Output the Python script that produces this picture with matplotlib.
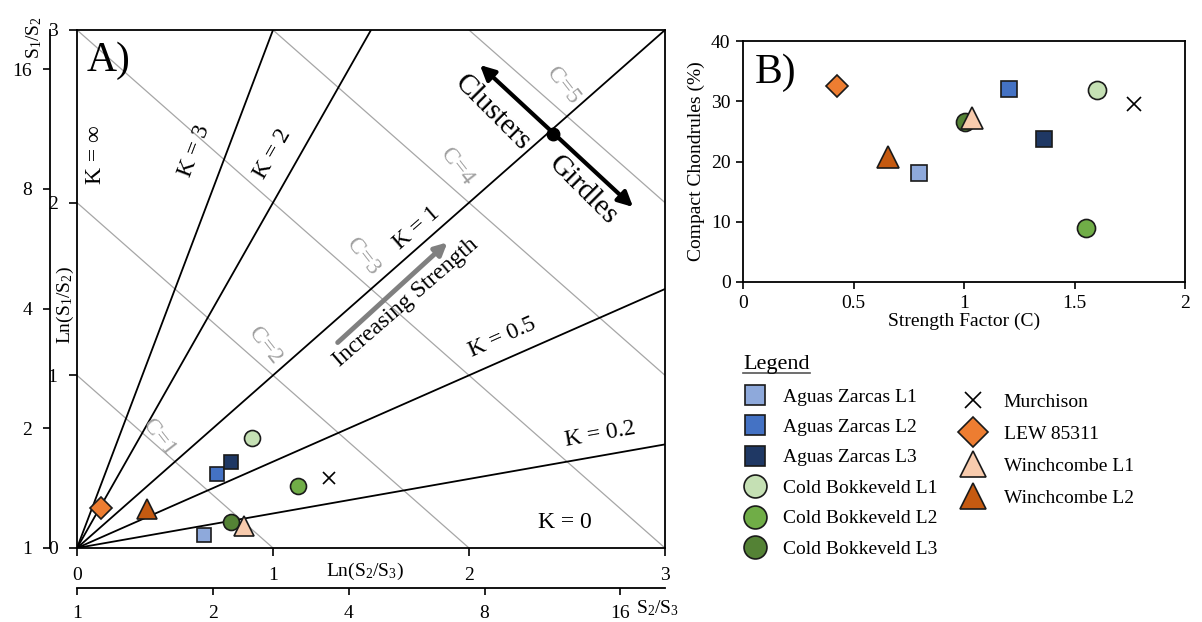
import numpy as np
import matplotlib
matplotlib.use("Agg")
import matplotlib.pyplot as plt
from matplotlib.lines import Line2D
from matplotlib.ticker import FuncFormatter

plt.rcParams['font.family'] = ['Liberation Serif', 'DejaVu Serif']
plt.rcParams['mathtext.fontset'] = 'custom'
plt.rcParams['mathtext.rm'] = 'Liberation Serif'
plt.rcParams['mathtext.it'] = 'Liberation Serif:italic'
plt.rcParams['mathtext.bf'] = 'Liberation Serif:bold'

# ---------------- data ----------------
samples = ["Aguas Zarcas L1", "Aguas Zarcas L2", "Aguas Zarcas L3",
           "Cold Bokkeveld L1", "Cold Bokkeveld L2", "Cold Bokkeveld L3",
           "Murchison", "LEW 85311", "Winchcombe L1", "Winchcombe L2"]
markers = ["s", "s", "s", "o", "o", "o", "x", "D", "^", "^"]
colors = ["#8EA9DB", "#4472C4", "#1F3864",
          "#C5E0B4", "#70AD47", "#548235",
          "#000000", "#ED7D31", "#F8CBAD", "#C55A11"]

# Woodcock diagram coordinates
ln_s2_s3 = [0.65, 0.715, 0.785, 0.895, 1.126, 0.785, 1.285, 0.121, 0.85, 0.356]
ln_s1_s2 = [0.074, 0.427, 0.499, 0.639, 0.359, 0.150, 0.404, 0.229, 0.126, 0.223]

# Strength factor vs compact chondrule fraction
strength_c = [0.797, 1.204, 1.362, 1.600, 1.552, 1.005, 1.769, 0.427, 1.037, 0.658]
compact_pct = [18.1, 32.0, 23.8, 31.9, 8.9, 26.5, 29.6, 32.6, 27.3, 20.8]

k_values = [0.2, 0.5, 1, 2, 3]
c_values = [1, 2, 3, 4, 5]
ratio_ticks = [1, 2, 4, 8, 16]

# ---------------- figure ----------------
W, H = 1202, 622
fig = plt.figure(figsize=(W / 100, H / 100), dpi=100)


def px_axes(left, top, right, bottom):
    return fig.add_axes([left / W, 1 - bottom / H, (right - left) / W, (bottom - top) / H])


sizes_a = {"s": 10.5, "o": 11.5, "x": 9, "D": 11, "^": 14}
sizes_b = {"s": 11, "o": 13, "x": 10, "D": 11.5, "^": 16}
sizes_leg = {"s": 15, "o": 16.5, "x": 11, "D": 15, "^": 19}


def style(m, c, sizes):
    if m == "x":
        return dict(marker=m, markersize=sizes[m], color="black",
                    markeredgewidth=1.2, linestyle="none")
    return dict(marker=m, markersize=sizes[m], markerfacecolor=c,
                markeredgecolor="#1a1a1a", markeredgewidth=1.2, linestyle="none")


# ---------------- panel A ----------------
axA = px_axes(77, 30, 665, 548)
axA.set_xlim(0, 3)
axA.set_ylim(0, 3)
for s in axA.spines.values():
    s.set_linewidth(1.3)

for c in c_values:
    axA.axline((0, c), slope=-1, color="#A6A6A6", lw=0.9, zorder=1)
for k in k_values:
    axA.axline((0, 0), slope=k, color="black", lw=1.3, zorder=2)

for x, y, m, c in zip(ln_s2_s3, ln_s1_s2, markers, colors):
    axA.plot(x, y, zorder=5, clip_on=False, **style(m, c, sizes_a))

axA.set_xticks([0, 1, 2, 3])
axA.set_yticks([0, 1, 2, 3])
axA.tick_params(direction="out", length=6, width=1.2, labelsize=14, pad=8)

sec_y = axA.secondary_yaxis(-27 / 588, functions=(np.exp, np.log))
sec_y.set_yticks(ratio_ticks)
sec_y.tick_params(direction="out", length=5, width=1.2, labelsize=14, pad=8)
sec_y.spines["left"].set_linewidth(1.3)

sec_x = axA.secondary_xaxis(-40 / 518, functions=(np.exp, np.log))
sec_x.set_xticks(ratio_ticks)
sec_x.tick_params(direction="out", length=5, width=1.2, labelsize=14, pad=7)
sec_x.spines["bottom"].set_linewidth(1.3)

axA.text(0.49, -0.046, r"Ln(S$_2$/S$_3$)", transform=axA.transAxes,
         ha="center", va="center", fontsize=14)
axA.text(0.988, -0.116, r"S$_2$/S$_3$", transform=axA.transAxes,
         ha="center", va="center", fontsize=14)
axA.text(-0.02, 0.469, r"Ln(S$_1$/S$_2$)", transform=axA.transAxes,
         ha="center", va="center", fontsize=14, rotation=90)
axA.text(-0.073, 0.985, r"S$_1$/S$_2$", transform=axA.transAxes,
         ha="center", va="center", fontsize=14, rotation=90)

axA.text(0.017, 0.94, "A)", transform=axA.transAxes, fontsize=30,
         ha="left", va="center")

# K labels
k_label_pos = {0.2: (2.67, 0.66, 10), 0.5: (2.17, 1.22, 24), 1: (1.735, 1.85, 41),
               2: (1.0, 2.28, 60), 3: (0.60, 2.30, 69)}
for k in k_values:
    x, y, r = k_label_pos[k]
    axA.text(x, y, f"K = {k:g}", fontsize=17, rotation=r,
             ha="center", va="center", rotation_mode="anchor")
axA.text(0.092, 2.28, "K = \u221e", fontsize=17, rotation=90, ha="center", va="center")
axA.text(2.49, 0.15, "K = 0", fontsize=17, ha="center", va="center")

# C labels
c_label_pos = {1: (0.42, 0.64), 2: (0.96, 1.17), 3: (1.46, 1.685),
               4: (1.94, 2.21), 5: (2.48, 2.68)}
for c in c_values:
    x, y = c_label_pos[c]
    axA.text(x, y, f"C={c}", fontsize=17, color="#A0A0A0", rotation=-52,
             ha="center", va="center", rotation_mode="anchor")

# Increasing strength arrow
axA.annotate("", xy=(1.89, 1.77), xytext=(1.33, 1.19),
             arrowprops=dict(arrowstyle="-|>", color="#808080", lw=3.5,
                             mutation_scale=18, shrinkA=0, shrinkB=0))
axA.text(1.68, 1.42, "Increasing Strength", fontsize=17, rotation=41,
         ha="center", va="center", rotation_mode="anchor")

# Clusters / Girdles arrow
axA.annotate("", xy=(2.056, 2.797), xytext=(2.837, 1.975),
             arrowprops=dict(arrowstyle="<|-|>", color="black", lw=3,
                             mutation_scale=22, shrinkA=0, shrinkB=0))
axA.plot(2.43, 2.40, "o", color="black", markersize=9, zorder=6)
axA.text(2.12, 2.52, "Clusters", fontsize=21, rotation=-45,
         ha="center", va="center", rotation_mode="anchor")
axA.text(2.58, 2.07, "Girdles", fontsize=21, rotation=-45,
         ha="center", va="center", rotation_mode="anchor")

# ---------------- panel B ----------------
axB = px_axes(743, 41, 1185, 282)
axB.set_xlim(0, 2)
axB.set_ylim(0, 40)
for s in axB.spines.values():
    s.set_linewidth(1.3)
for x, y, m, c in zip(strength_c, compact_pct, markers, colors):
    axB.plot(x, y, zorder=5, **style(m, c, sizes_b))
axB.set_xticks([0, 0.5, 1, 1.5, 2])
axB.set_yticks([0, 10, 20, 30, 40])
axB.xaxis.set_major_formatter(FuncFormatter(lambda v, p: f"{v:g}"))
axB.tick_params(direction="out", length=5, width=1.2, labelsize=14, pad=4)
axB.set_xlabel("Strength Factor (C)", fontsize=14, labelpad=1)
axB.set_ylabel("Compact Chondrules (%)", fontsize=14, labelpad=4)
axB.text(0.027, 0.87, "B)", transform=axB.transAxes, fontsize=30,
         ha="left", va="center")

# ---------------- legend ----------------
handles = [Line2D([], [], **style(m, c, sizes_leg)) for m, c in zip(markers, colors)]
order1 = [0, 1, 2, 3, 4, 5]
order2 = [6, 7, 8, 9]
leg_kw = dict(frameon=False, fontsize=14, handlelength=1.5, borderpad=0,
              borderaxespad=0, loc="upper left")
leg1 = fig.legend([handles[i] for i in order1], [samples[i] for i in order1],
                  bbox_to_anchor=(740 / W, 1 - 388 / H), handletextpad=0.7,
                  labelspacing=0.66, **leg_kw)
leg2 = fig.legend([handles[i] for i in order2], [samples[i] for i in order2],
                  bbox_to_anchor=(958 / W, 1 - 393 / H), handletextpad=0.85,
                  labelspacing=0.74, **leg_kw)

title = fig.text(743 / W, 1 - 364 / H, "Legend", fontsize=16, ha="left", va="center")
fig.canvas.draw()
bb = title.get_window_extent()
fig.add_artist(Line2D([bb.x0 / W, bb.x1 / W], [1 - 373 / H, 1 - 373 / H],
                      color="#555555", lw=1.2, transform=fig.transFigure))

fig.savefig("out.png", dpi=100)
